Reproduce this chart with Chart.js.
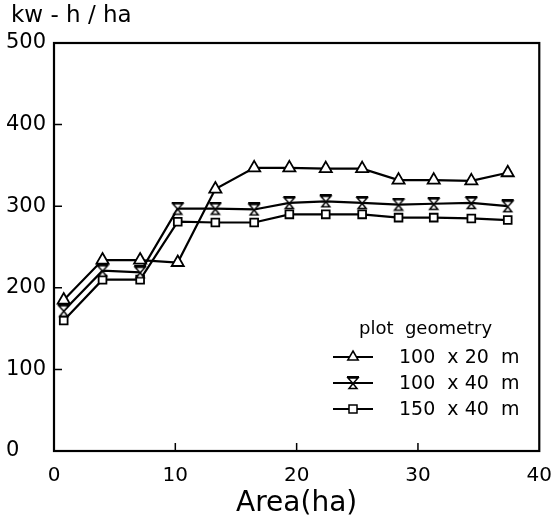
<!DOCTYPE html>
<html>
<head>
<meta charset="utf-8">
<script src="https://cdn.jsdelivr.net/npm/chart.js@4/dist/chart.umd.min.js"></script>
<style>
  html, body { margin: 0; padding: 0; background: #fff; }
  #wrap { width: 557px; height: 524px; }
</style>
</head>
<body>
<div id="wrap"><canvas id="c" width="557" height="524"></canvas></div>
<script>
// ---- data ----
const areaX      = [0.8, 4.0, 7.1, 10.2, 13.3, 16.5, 19.4, 22.4, 25.4, 28.4, 31.3, 34.4, 37.4];
const geom100x20 = [185, 234, 234, 231, 321, 347, 347, 346, 346, 332, 332, 331, 341];
const geom100x40 = [172, 221, 219, 297, 297, 296, 304, 306, 304, 302, 303, 304, 300];
const geom150x40 = [160, 210, 210, 281, 280, 280, 290, 290, 290, 286, 286, 285, 283];
const seriesNames = ['100  x 20  m', '100  x 40  m', '150  x 40  m'];
const xTicks = [0, 10, 20, 30, 40];
const yTicks = [0, 100, 200, 300, 400, 500];
const yTitle = 'kw - h / ha';
const xTitle = 'Area(ha)';
const legendTitle = 'plot  geometry';

const FONT = '"DejaVu Sans", sans-serif';

// hourglass marker (inverted triangle with bar over small triangle)
function hourglass() {
  const c = document.createElement('canvas');
  c.width = 14; c.height = 14;
  const g = c.getContext('2d');
  g.strokeStyle = '#000'; g.fillStyle = '#fff'; g.lineWidth = 1.5;
  g.beginPath();
  g.moveTo(2, 2); g.lineTo(12, 2); g.lineTo(7, 7.5); g.closePath();
  g.fill(); g.stroke();
  g.beginPath();
  g.moveTo(7, 7.5); g.lineTo(11, 12.5); g.lineTo(3, 12.5); g.closePath();
  g.fill(); g.stroke();
  g.lineWidth = 2;
  g.beginPath(); g.moveTo(1, 1); g.lineTo(13, 1); g.stroke();
  return c;
}
const hg = hourglass();

function pts(ys) { return areaX.map((x, i) => ({ x: x, y: ys[i] })); }

const styles = [
  { pointStyle: 'triangle', pointRadius: 7 },
  { pointStyle: hg, pointRadius: 7 },
  { pointStyle: 'rect', pointRadius: 5.5 }
];
const seriesVals = [geom100x20, geom100x40, geom150x40];

const datasets = seriesVals.map((v, i) => ({
  label: seriesNames[i],
  data: pts(v),
  borderColor: '#000',
  borderWidth: 2.2,
  pointBackgroundColor: '#fff',
  pointBorderColor: '#000',
  pointBorderWidth: 1.8,
  pointStyle: styles[i].pointStyle,
  pointRadius: styles[i].pointRadius,
  fill: false,
  tension: 0
}));

const framePlugin = {
  id: 'frame',
  beforeDatasetsDraw(chart) {
    const { ctx, chartArea: a, scales } = chart;
    ctx.save();
    ctx.strokeStyle = '#000';
    ctx.lineWidth = 2.2;
    ctx.strokeRect(a.left, a.top, a.right - a.left, a.bottom - a.top);
    ctx.lineWidth = 1.5;
    ctx.beginPath();
    yTicks.forEach(v => {
      if (v === 0 || v === 500) return;
      const y = scales.y.getPixelForValue(v);
      ctx.moveTo(a.left, y); ctx.lineTo(a.left + 8, y);
    });
    xTicks.forEach(v => {
      if (v === 0 || v === 40) return;
      const x = scales.x.getPixelForValue(v);
      ctx.moveTo(x, a.bottom); ctx.lineTo(x, a.bottom - 8);
    });
    ctx.stroke();
    ctx.restore();
  },
  afterDraw(chart) {
    const { ctx } = chart;
    ctx.save();
    ctx.fillStyle = '#000';
    ctx.textBaseline = 'middle';
    ctx.textAlign = 'left';
    // y-axis unit title
    ctx.font = '23px ' + FONT;
    ctx.fillText(yTitle, 11, 16);
    // legend
    ctx.font = '18px ' + FONT;
    ctx.fillText(legendTitle, 359, 329);
    const rows = [357, 383, 409];
    chart.data.datasets.forEach((ds, i) => {
      const y = rows[i];
      ctx.strokeStyle = '#000';
      ctx.lineWidth = 2;
      ctx.beginPath(); ctx.moveTo(333, y); ctx.lineTo(373, y); ctx.stroke();
      const x = 353;
      ctx.lineWidth = 1.5;
      ctx.fillStyle = '#fff';
      if (i === 0) {
        const r = 6;
        ctx.beginPath();
        ctx.moveTo(x, y - r); ctx.lineTo(x + r * 0.87, y + r * 0.5); ctx.lineTo(x - r * 0.87, y + r * 0.5); ctx.closePath();
        ctx.fill(); ctx.stroke();
      } else if (i === 1) {
        ctx.drawImage(hg, x - 7, y - 7);
      } else {
        ctx.beginPath(); ctx.rect(x - 4, y - 4, 8, 8); ctx.fill(); ctx.stroke();
      }
      ctx.fillStyle = '#000';
      ctx.font = '19px ' + FONT;
      ctx.fillText(ds.label, 399, y + 1);
    });
    ctx.restore();
  }
};

new Chart(document.getElementById('c'), {
  type: 'line',
  data: { datasets: datasets },
  options: {
    responsive: false,
    animation: false,
    devicePixelRatio: 1,
    layout: { padding: { left: 6, right: 13, top: 43, bottom: 0 } },
    plugins: {
      legend: { display: false },
      tooltip: { enabled: false },
      title: { display: false }
    },
    scales: {
      x: {
        type: 'linear',
        min: 0, max: 40,
        afterBuildTicks(s) { s.ticks = xTicks.map(v => ({ value: v })); },
        afterFit(s) { s.height = 73; },
        grid: { display: false },
        border: { display: false },
        ticks: { color: '#000', font: { family: FONT, size: 20 }, padding: 5, maxRotation: 0 },
        title: {
          display: true, text: xTitle, color: '#000',
          font: { family: FONT, size: 28 },
          padding: { top: 0, bottom: 3 }
        }
      },
      y: {
        min: 0, max: 500,
        afterBuildTicks(s) { s.ticks = yTicks.map(v => ({ value: v })); },
        afterFit(s) { s.width = 48; },
        grid: { display: false },
        border: { display: false },
        ticks: { color: '#000', font: { family: FONT, size: 21 }, crossAlign: 'far', padding: 4 }
      }
    }
  },
  plugins: [framePlugin]
});
</script>
</body>
</html>
